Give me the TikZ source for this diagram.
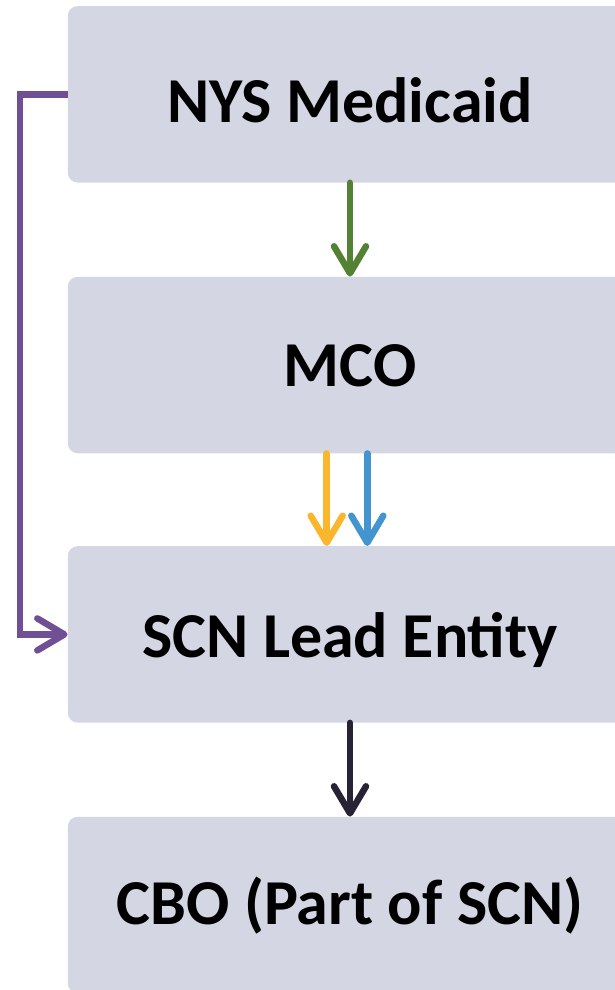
\documentclass[tikz,border=0pt]{standalone}
\usepackage{fontspec}
\setmainfont{Carlito}
\usepackage{tikz}
\usetikzlibrary{arrows.meta}
\usepackage{xcolor}
\definecolor{boxfill}{HTML}{D4D6E4}
\definecolor{medgreen}{HTML}{548235}
\definecolor{mcoorange}{HTML}{FBB62E}
\definecolor{mcoblue}{HTML}{4295CF}
\definecolor{medpurple}{HTML}{704F94}
\definecolor{scndark}{HTML}{272335}

\begin{document}
\begin{tikzpicture}[x=1pt,y=-1pt,
    flowbox/.style={rectangle, rounded corners=10pt, fill=boxfill, draw=none,
        minimum width=564.5pt, minimum height=176.5pt, inner sep=0pt,
        text depth=0pt, font=\bfseries\fontsize{64}{70}\selectfont},
    flowarrow/.style={line width=6.5pt, line cap=round,
        -{Straight Barb[round, length=27pt, width=32pt]}}]
                \useasboundingbox (0,0) rectangle (615,990);
                \node[flowbox, text height=57pt] (nys) at (350,94.3) {NYS Medicaid};
                \node[flowbox, text height=43.4pt] (mco) at (350,365) {MCO};
                \node[flowbox, text height=45.2pt] (scn) at (350,634.4) {SCN Lead Entity};
                \node[flowbox, text height=38pt] (cbo) at (350,905) {CBO (Part of SCN)};
                \draw[flowarrow, medgreen] (nys.south) -- (mco.north);
                \draw[flowarrow, mcoorange] ([xshift=-23.3pt]mco.south) -- ([xshift=-23.3pt]scn.north);
                \draw[flowarrow, mcoblue] ([xshift=17.3pt]mco.south) -- ([xshift=17.3pt]scn.north);
                \draw[flowarrow, scndark] (scn.south) -- (cbo.north);
                \draw[flowarrow, medpurple, line cap=butt] (nys.west) -- (20,94.3) |- (scn.west);
            \end{tikzpicture}
\end{document}
